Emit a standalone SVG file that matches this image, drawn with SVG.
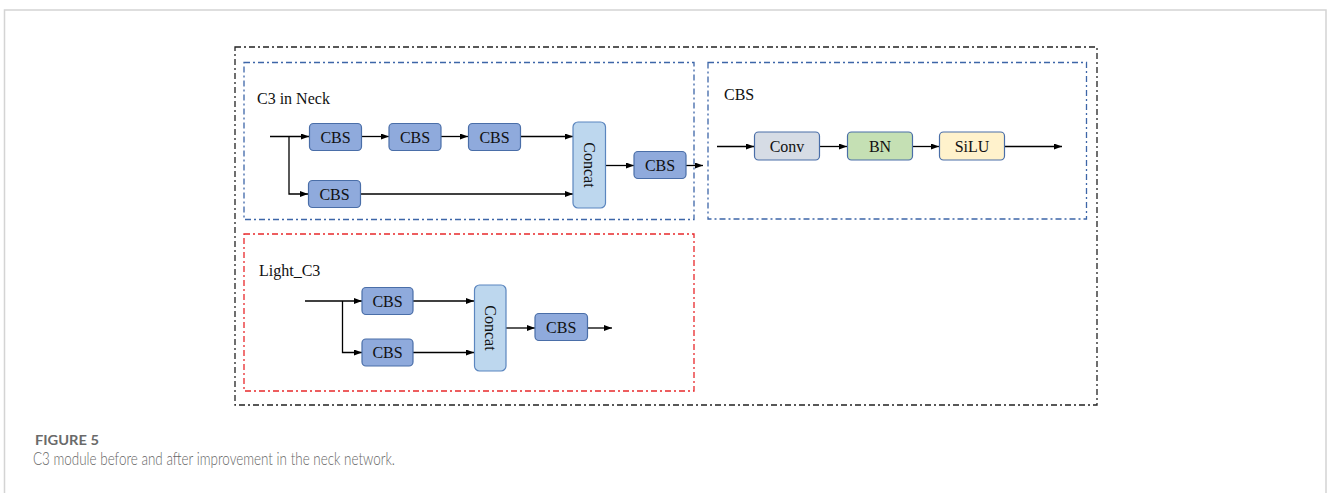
<svg xmlns="http://www.w3.org/2000/svg" width="1328" height="493" viewBox="0 0 1328 493">
  <style>
    .lbl { font-family: "Liberation Serif", "Times New Roman", serif; font-size: 16px; fill: #111; }
    .mid { text-anchor: middle; }
    .cbs { fill: #8faadc; stroke: #4a6ea8; stroke-width: 1.2; }
    .cat { fill: #bdd7ee; stroke: #5b86bf; stroke-width: 1.2; }
    .conv { fill: #d6dce5; stroke: #4a6ea8; stroke-width: 1.2; }
    .bn { fill: #c5e0b4; stroke: #4a6ea8; stroke-width: 1.2; }
    .silu { fill: #fff2cc; stroke: #4a6ea8; stroke-width: 1.2; }
    .wire { fill: none; stroke: #000; stroke-width: 1.3; }
    .frame { fill: none; stroke-width: 1.3; stroke-dasharray: 6 3 2 3; }
  </style>
  <defs>
    <marker id="arr" viewBox="0 0 8 6" refX="8" refY="3" markerWidth="8" markerHeight="6" markerUnits="userSpaceOnUse" orient="auto">
      <path d="M0 0 L8 3 L0 6 Z" fill="#000"/>
    </marker>
  </defs>

  <!-- page frame -->
  <rect x="0" y="0" width="1328" height="493" fill="#fff"/>
  <path d="M4.5 493 V10 H1326 V493" fill="none" stroke="#d4d4d4" stroke-width="1.5"/>

  <!-- panels -->
  <g id="panels">
    <rect class="frame" x="235" y="47" width="862" height="358" stroke="#222"/>
    <rect class="frame" x="244" y="62.5" width="450" height="157" stroke="#3d66a8"/>
    <rect class="frame" x="708" y="62.5" width="378.5" height="156.5" stroke="#3d66a8"/>
    <rect class="frame" x="244" y="234" width="450" height="157" stroke="#e8282b"/>
    <text class="lbl" x="257" y="104">C3 in Neck</text>
    <text class="lbl" x="724" y="99.5">CBS</text>
    <text class="lbl" x="259" y="275.5">Light_C3</text>
  </g>

  <!-- connectors -->
  <g id="connectors">
    <path class="wire" d="M270 136.5 H309" marker-end="url(#arr)"/>
    <path class="wire" d="M289 136.5 V194 H308" marker-end="url(#arr)"/>
    <path class="wire" d="M362 136.5 H389" marker-end="url(#arr)"/>
    <path class="wire" d="M441 136.5 H468" marker-end="url(#arr)"/>
    <path class="wire" d="M520 136.5 H573" marker-end="url(#arr)"/>
    <path class="wire" d="M361 194 H573" marker-end="url(#arr)"/>
    <path class="wire" d="M605 165.5 H634" marker-end="url(#arr)"/>
    <path class="wire" d="M686 165.5 H703" marker-end="url(#arr)"/>

    <path class="wire" d="M717 146.5 H754" marker-end="url(#arr)"/>
    <path class="wire" d="M819.5 146.5 H847" marker-end="url(#arr)"/>
    <path class="wire" d="M912.5 146.5 H939" marker-end="url(#arr)"/>
    <path class="wire" d="M1004.5 146.5 H1062" marker-end="url(#arr)"/>

    <path class="wire" d="M305 301 H362" marker-end="url(#arr)"/>
    <path class="wire" d="M342.5 301 V352.5 H362" marker-end="url(#arr)"/>
    <path class="wire" d="M413 301 H474" marker-end="url(#arr)"/>
    <path class="wire" d="M413 352.5 H474" marker-end="url(#arr)"/>
    <path class="wire" d="M506 328 H535" marker-end="url(#arr)"/>
    <path class="wire" d="M587.5 328 H612" marker-end="url(#arr)"/>
  </g>

  <!-- C3 in Neck -->
  <g id="c3-cbs1"><rect class="cbs" x="309.5" y="123.5" width="52" height="27" rx="4"/><text class="lbl mid" x="335.5" y="142.5">CBS</text></g>
  <g id="c3-cbs2"><rect class="cbs" x="389" y="123.5" width="52" height="27" rx="4"/><text class="lbl mid" x="415" y="142.5">CBS</text></g>
  <g id="c3-cbs3"><rect class="cbs" x="468.5" y="123.5" width="52" height="27" rx="4"/><text class="lbl mid" x="494.5" y="142.5">CBS</text></g>
  <g id="c3-cbs4"><rect class="cbs" x="308.5" y="180.5" width="52" height="27" rx="4"/><text class="lbl mid" x="334.5" y="199.5">CBS</text></g>
  <g id="c3-concat"><rect class="cat" x="573" y="122" width="32.5" height="86" rx="5"/><text class="lbl mid" x="589.2" y="165" dominant-baseline="central" transform="rotate(90 589.2 165)">Concat</text></g>
  <g id="c3-cbs-out"><rect class="cbs" x="634" y="151.5" width="52" height="27" rx="4"/><text class="lbl mid" x="660" y="170.5">CBS</text></g>

  <!-- CBS detail -->
  <g id="cbs-conv"><rect class="conv" x="754.5" y="132" width="65" height="28" rx="4"/><text class="lbl mid" x="787" y="151.5">Conv</text></g>
  <g id="cbs-bn"><rect class="bn" x="847.5" y="132" width="65" height="28" rx="4"/><text class="lbl mid" x="880" y="151.5">BN</text></g>
  <g id="cbs-silu"><rect class="silu" x="939.5" y="132" width="65" height="28" rx="4"/><text class="lbl mid" x="972" y="151.5">SiLU</text></g>

  <!-- Light_C3 -->
  <g id="lc3-cbs1"><rect class="cbs" x="362" y="287.5" width="51" height="27" rx="4"/><text class="lbl mid" x="387.5" y="306.5">CBS</text></g>
  <g id="lc3-cbs2"><rect class="cbs" x="362" y="339" width="51" height="27" rx="4"/><text class="lbl mid" x="387.5" y="358">CBS</text></g>
  <g id="lc3-concat"><rect class="cat" x="474.5" y="285" width="31.5" height="86" rx="5"/><text class="lbl mid" x="490.2" y="328" dominant-baseline="central" transform="rotate(90 490.2 328)">Concat</text></g>
  <g id="lc3-cbs-out"><rect class="cbs" x="535" y="313.5" width="52.5" height="27" rx="4"/><text class="lbl mid" x="561.2" y="332.5">CBS</text></g>

  <!-- caption -->
  <g id="caption">
    <text x="35" y="444.5" font-family="Lato, 'Open Sans', sans-serif" font-size="14" font-weight="700" fill="#6a6a6a" textLength="64" lengthAdjust="spacingAndGlyphs">FIGURE 5</text>
    <text x="33" y="465" font-family="Lato, 'Open Sans', sans-serif" font-size="17" font-weight="300" fill="#666" textLength="362" lengthAdjust="spacingAndGlyphs">C3 module before and after improvement in the neck network.</text>
  </g>
</svg>
